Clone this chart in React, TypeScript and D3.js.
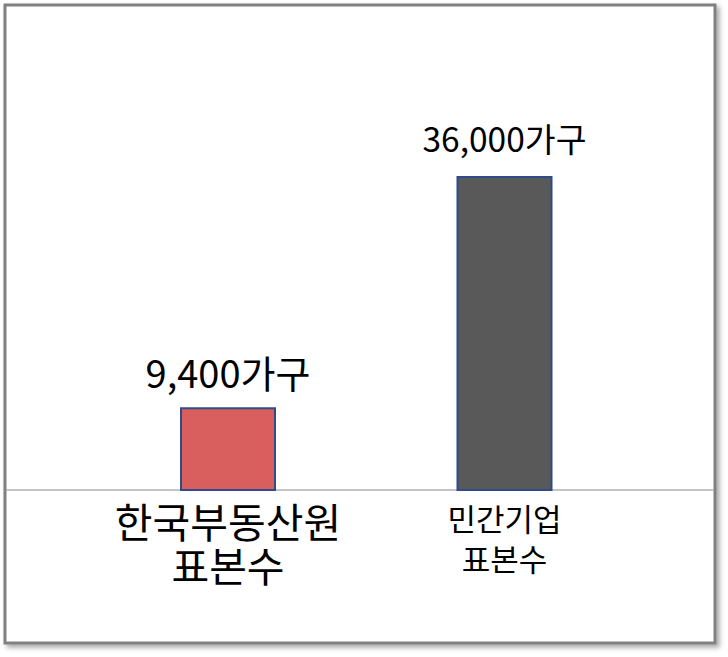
import React from "react";
import * as d3 from "d3";

const categories = ["한국부동산원\n표본수", "민간기업\n표본수"];
const values = [9400, 36000];
const valueLabels = ["9,400가구", "36,000가구"];

const barColors = ["#D95F5E", "#595959"];
const valFontSizes = [38, 33.5];
const valOffsets = [20, 25];
const catFontSizes = [41, 31];
const catLineHeights = [44, 40];
const catFirstOffsets = [48, 41];

const W = 728;
const H = 657;
const FONT = "'Noto Sans CJK KR', 'Noto Sans', sans-serif";

export default function App() {
  const x = d3
    .scaleBand<string>()
    .domain(categories)
    .range([89.75, 642.75])
    .paddingInner(0.66)
    .paddingOuter(0.33);
  const y = d3.scaleLinear().domain([0, 36000]).range([490, 177]);
  const baseY = y(0);

  return (
    <svg
      width={W}
      height={H}
      style={{ position: "absolute", left: 0, top: 0, background: "#fff" }}
    >
      <defs>
        <filter id="shadow" x="-5%" y="-5%" width="115%" height="115%">
          <feDropShadow dx="3" dy="3" stdDeviation="2.5" floodColor="#000" floodOpacity="0.35" />
        </filter>
      </defs>
      <rect x={5} y={5} width={710} height={638} fill="#fff" stroke="#808080" strokeWidth={3} filter="url(#shadow)" />
      <line x1={6.5} x2={713.5} y1={baseY} y2={baseY} stroke="#8c8c8c" strokeWidth={1.2} />
      {categories.map((c, i) => {
        const bx = x(c)!;
        const bw = x.bandwidth();
        const top = y(values[i]);
        const cx = bx + bw / 2;
        const lines = c.split("\n");
        return (
          <g key={c}>
            <rect x={bx} y={top} width={bw} height={baseY - top} fill={barColors[i]} stroke="#2F4B8C" strokeWidth={2} />
            <text x={cx} y={top - valOffsets[i]} textAnchor="middle" fontFamily={FONT} fontSize={valFontSizes[i]} fill="#000">
              {valueLabels[i]}
            </text>
            {lines.map((ln, j) => (
              <text
                key={j}
                x={cx}
                y={baseY + catFirstOffsets[i] + j * catLineHeights[i]}
                textAnchor="middle"
                fontFamily={FONT}
                fontSize={catFontSizes[i]}
                fill="#000"
              >
                {ln}
              </text>
            ))}
          </g>
        );
      })}
    </svg>
  );
}
